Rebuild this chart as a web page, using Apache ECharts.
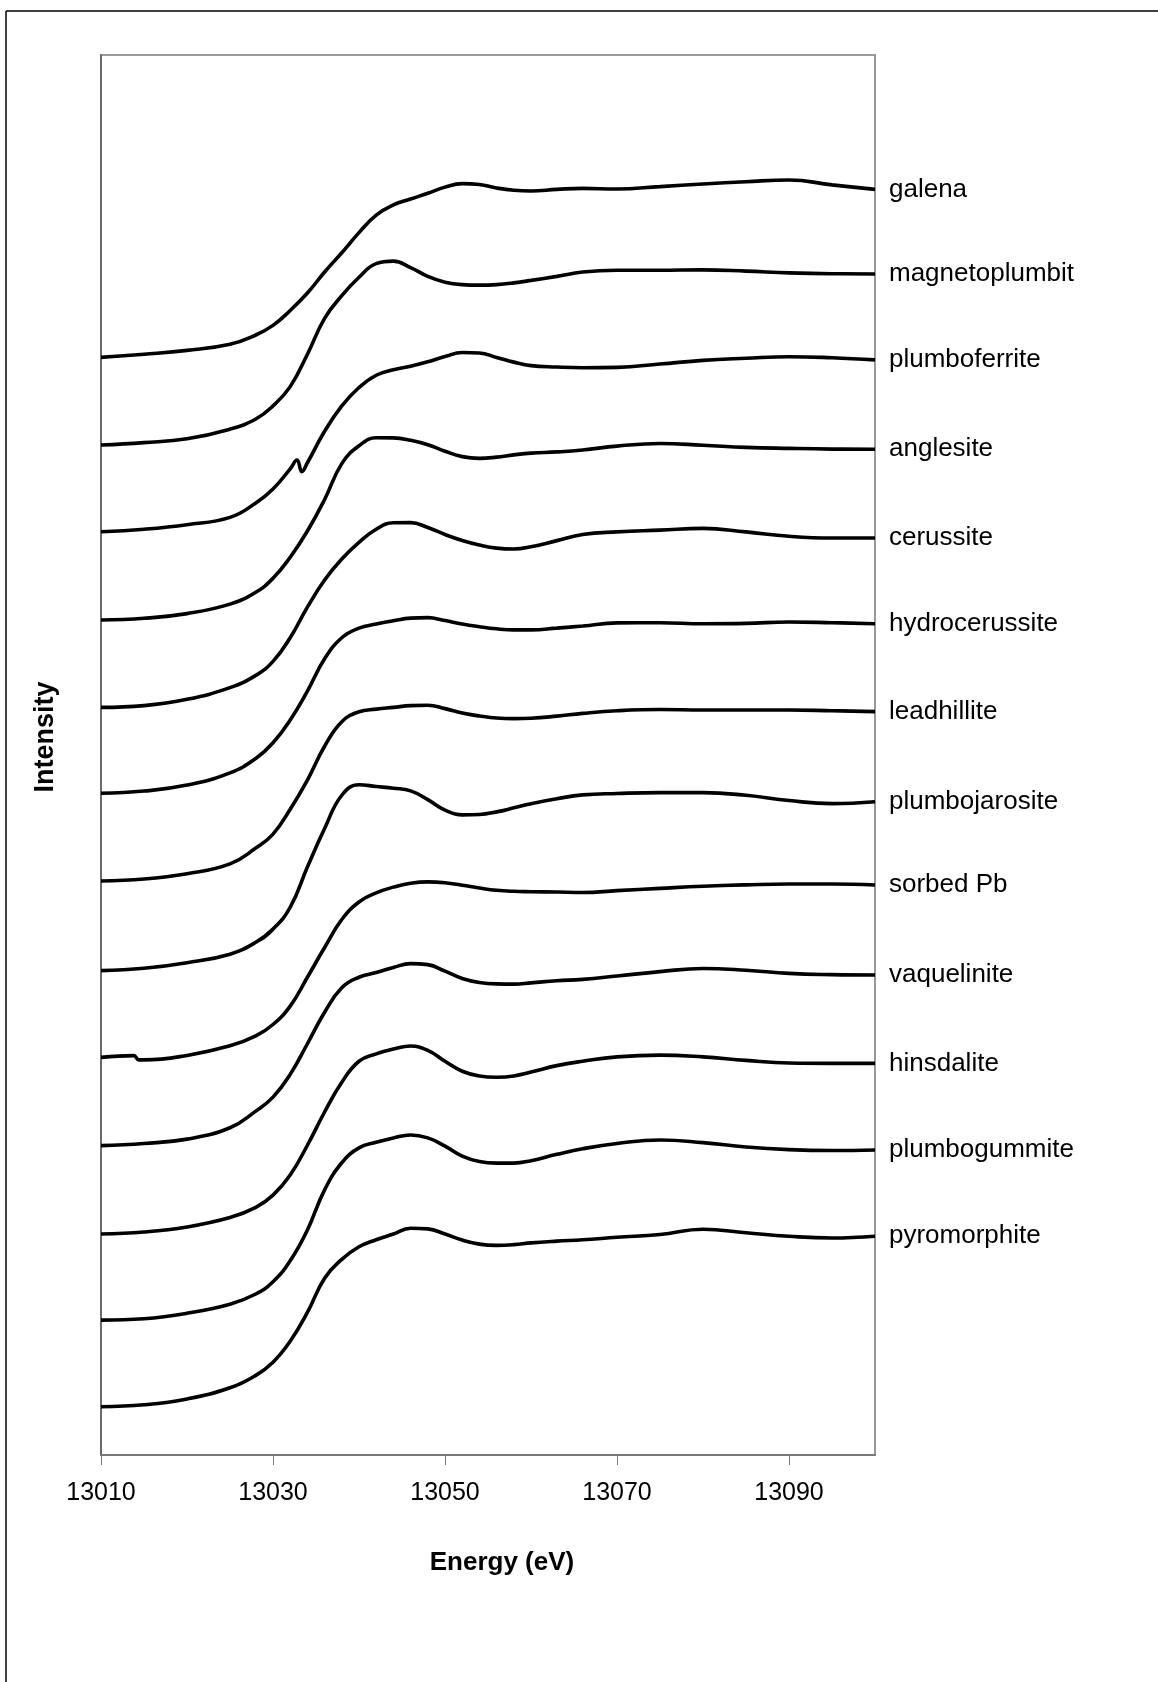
<!DOCTYPE html>
<html>
<head>
<meta charset="utf-8">
<script src="https://cdn.jsdelivr.net/npm/echarts@6/dist/echarts.min.js"></script>
<style>
html,body{margin:0;padding:0;background:#fff;}
#chart{width:1158px;height:1682px;}
</style>
</head>
<body>
<div id="chart"></div>
<script>
// Energy grid (eV)
const energy = [13010, 13015, 13020, 13025, 13028, 13030, 13032, 13034, 13036, 13038,
                13040, 13042, 13044, 13046, 13048, 13050, 13052, 13054, 13056, 13058,
                13060, 13063, 13066, 13070, 13075, 13080, 13085, 13090, 13095, 13100];

// Reference names, top to bottom
const names = ['galena', 'magnetoplumbit', 'plumboferrite', 'anglesite', 'cerussite', 'hydrocerussite', 'leadhillite', 'plumbojarosite', 'sorbed Pb', 'vaquelinite', 'hinsdalite', 'plumbogummite', 'pyromorphite'];

// Normalized XANES spectra
const galena = [0.022, 0.04, 0.062, 0.097, 0.15, 0.205, 0.29, 0.39, 0.51, 0.62,
                0.735, 0.835, 0.893, 0.927, 0.96, 0.995, 1.015, 1.01, 0.99, 0.977,
                0.973, 0.982, 0.988, 0.984, 0.998, 1.013, 1.026, 1.036, 1.008, 0.982];
const magnetoplumbit = [0.021, 0.035, 0.057, 0.112, 0.17, 0.245, 0.355, 0.54, 0.745, 0.875,
                0.98, 1.058, 1.072, 1.035, 0.985, 0.952, 0.938, 0.935, 0.938, 0.948,
                0.962, 0.985, 1.01, 1.02, 1.02, 1.022, 1.015, 1.005, 1.0, 0.999];
const plumboferrite = [0.026, 0.04, 0.066, 0.108, 0.19, 0.27, 0.385, 0.42, 0.60, 0.745,
                0.85, 0.92, 0.952, 0.972, 0.997, 1.027, 1.05, 1.047, 1.022, 0.995,
                0.975, 0.967, 0.963, 0.965, 0.984, 1.005, 1.017, 1.026, 1.02, 1.008];
const anglesite = [0.021, 0.031, 0.058, 0.112, 0.18, 0.26, 0.38, 0.53, 0.71, 0.915,
                1.017, 1.063, 1.062, 1.048, 1.023, 0.986, 0.955, 0.945, 0.952, 0.965,
                0.975, 0.982, 0.993, 1.015, 1.03, 1.02, 1.008, 1.002, 0.998, 0.997];
const cerussite = [0.022, 0.032, 0.068, 0.135, 0.205, 0.285, 0.42, 0.595, 0.75, 0.87,
                0.965, 1.04, 1.077, 1.078, 1.05, 1.01, 0.976, 0.95, 0.932, 0.927,
                0.94, 0.975, 1.01, 1.025, 1.035, 1.045, 1.025, 1.0, 0.99, 0.99];
const hydrocerussite = [0.031, 0.044, 0.078, 0.148, 0.23, 0.32, 0.45, 0.615, 0.80, 0.92,
                0.975, 0.998, 1.017, 1.032, 1.035, 1.018, 0.998, 0.983, 0.971, 0.965,
                0.965, 0.975, 0.987, 1.005, 1.006, 1.0, 1.002, 1.01, 1.006, 1.0];
const leadhillite = [0.03, 0.041, 0.072, 0.128, 0.218, 0.298, 0.44, 0.607, 0.80, 0.94,
                0.997, 1.012, 1.022, 1.032, 1.034, 1.015, 0.99, 0.973, 0.961, 0.958,
                0.96, 0.972, 0.988, 1.003, 1.01, 1.007, 1.007, 1.007, 1.003, 0.998];
const plumbojarosite = [0.018, 0.031, 0.063, 0.112, 0.18, 0.255, 0.38, 0.61, 0.83, 1.02,
                1.08, 1.07, 1.06, 1.045, 0.995, 0.935, 0.908, 0.91, 0.925, 0.948,
                0.972, 1.0, 1.022, 1.03, 1.035, 1.035, 1.02, 0.99, 0.972, 0.983];
const sorbedPb = [0.022, 0.008, 0.033, 0.088, 0.145, 0.21, 0.315, 0.48, 0.65, 0.81,
                0.91, 0.962, 0.995, 1.017, 1.025, 1.02, 1.006, 0.99, 0.977, 0.971,
                0.969, 0.967, 0.964, 0.975, 0.988, 1.0, 1.008, 1.013, 1.013, 1.007];
const vaquelinite = [0.018, 0.03, 0.055, 0.12, 0.215, 0.295, 0.425, 0.60, 0.78, 0.92,
                0.98, 1.007, 1.036, 1.058, 1.052, 1.015, 0.973, 0.95, 0.942, 0.941,
                0.948, 0.96, 0.968, 0.987, 1.012, 1.03, 1.02, 1.002, 0.995, 0.993];
const hinsdalite = [0.013, 0.024, 0.053, 0.107, 0.165, 0.235, 0.35, 0.52, 0.71, 0.88,
                1.0, 1.042, 1.07, 1.087, 1.062, 1.0, 0.943, 0.916, 0.909, 0.916,
                0.938, 0.975, 1.0, 1.025, 1.035, 1.025, 1.005, 0.99, 0.988, 0.988];
const plumbogummite = [0.021, 0.029, 0.06, 0.112, 0.17, 0.24, 0.36, 0.536, 0.765, 0.92,
                1.005, 1.037, 1.062, 1.079, 1.062, 1.015, 0.958, 0.927, 0.918, 0.918,
                0.932, 0.968, 1.0, 1.03, 1.05, 1.035, 1.01, 0.995, 0.99, 0.993];
const pyromorphite = [0.026, 0.037, 0.07, 0.134, 0.205, 0.28, 0.40, 0.565, 0.76, 0.868,
                0.94, 0.98, 1.013, 1.046, 1.042, 1.013, 0.978, 0.955, 0.948, 0.952,
                0.962, 0.972, 0.98, 0.994, 1.01, 1.04, 1.02, 1.0, 0.99, 1.0];

// Small glitches visible in two spectra: [energy, value]
const plumboferriteGlitch = [[13032.8, 0.436], [13033.35, 0.369]];
const sorbedPbGlitch = [[13013.8, 0.032], [13014.4, 0.008]];

const spectra = [galena, magnetoplumbit, plumboferrite, anglesite, cerussite, hydrocerussite, leadhillite, plumbojarosite, sorbedPb, vaquelinite, hinsdalite, plumbogummite, pyromorphite];
const extras = [null, null, plumboferriteGlitch, null, null, null, null, null, sorbedPbGlitch, null, null, null, null];

const offsetStep = 0.5;           // vertical stacking offset between spectra
const xTicks = [13010, 13030, 13050, 13070, 13090];

function buildSeriesData(i) {
  const off = offsetStep * (names.length - 1 - i);
  let pts = energy.map((e, k) => [e, spectra[i][k]]);
  if (extras[i]) pts = pts.concat(extras[i]).sort((a, b) => a[0] - b[0]);
  return pts.map(p => [p[0], +(p[1] + off).toFixed(4)]);
}

const font = '"Liberation Sans", Arial, Helvetica, sans-serif';

const chart = echarts.init(document.getElementById('chart'), null, { renderer: 'canvas' });
chart.setOption({
  animation: false,
  backgroundColor: '#ffffff',
  grid: {
    left: 101, top: 55, width: 774, height: 1400,
    show: true, borderColor: '#9a9a9a', borderWidth: 2, backgroundColor: 'transparent'
  },
  xAxis: {
    type: 'value', min: 13010, max: 13100,
    axisLine: { show: true, onZero: false, lineStyle: { color: '#7a7a7a', width: 2 } },
    axisTick: { show: true, inside: false, length: 10, customValues: xTicks, lineStyle: { color: '#7a7a7a', width: 1 } },
    axisLabel: { show: true, customValues: xTicks, color: '#000', fontSize: 25, fontFamily: font, margin: 26,
                 formatter: v => String(v) },
    splitLine: { show: false }
  },
  yAxis: {
    type: 'value', min: -0.25, max: 7.75,
    axisLine: { show: true, onZero: false, lineStyle: { color: '#6a6a6a', width: 2 } },
    axisTick: { show: false },
    axisLabel: { show: false },
    splitLine: { show: false }
  },
  series: names.map((n, i) => ({
    type: 'line',
    name: n,
    data: buildSeriesData(i),
    showSymbol: false,
    symbol: 'none',
    smooth: 0.45,
    silent: true,
    lineStyle: { color: '#000', width: 3.6 },
    emphasis: { disabled: true },
    endLabel: {
      show: true, formatter: '{a}', color: '#000',
      fontSize: 26, fontFamily: font, distance: 14
    }
  })),
  graphic: [
    { type: 'line', silent: true, shape: { x1: 6, y1: 11, x2: 1158, y2: 11 }, style: { stroke: '#000', lineWidth: 1.5 } },
    { type: 'line', silent: true, shape: { x1: 6, y1: 11, x2: 6, y2: 1682 }, style: { stroke: '#000', lineWidth: 1.5 } },
    { type: 'text', silent: true, x: 502, y: 1563,
      style: { text: 'Energy (eV)', font: 'bold 26px ' + font, fill: '#000',
               textAlign: 'center', textVerticalAlign: 'middle', align: 'center', verticalAlign: 'middle' } },
    { type: 'text', silent: true, x: 46, y: 737, rotation: Math.PI / 2,
      style: { text: 'Intensity', font: 'bold 27px ' + font, fill: '#000',
               textAlign: 'center', textVerticalAlign: 'middle', align: 'center', verticalAlign: 'middle' } }
  ]
});
</script>
</body>
</html>
